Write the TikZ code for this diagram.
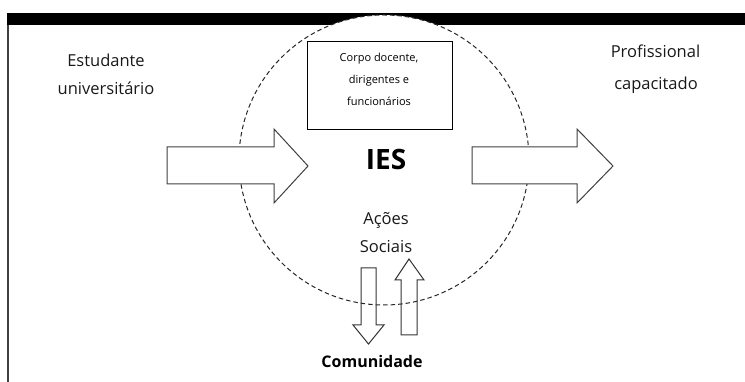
\documentclass[tikz,border=0pt]{standalone}
\usepackage{fontspec}
\setmainfont{Open Sans}
\begin{document}
\begin{tikzpicture}[x=1pt,y=1pt,
  lbl/.style={font=\fontsize{16.5}{19}\selectfont, inner sep=0, text=black!90, anchor=base},
  blockarrow/.style={draw=black!75, line width=1pt, fill=white, line join=miter},
  thinarrow/.style={draw=black!80, line width=1pt, line join=miter},
  boxtext/.style={font=\fontsize{11}{13}\selectfont, inner sep=0, anchor=base},
]
\useasboundingbox (0,0) rectangle (745,382);
% top bar and left rule
\fill[black] (7,357) rectangle (745,369);
\coordinate (ltop) at (8,357);
\coordinate (lbot) at (8,0);
\draw[black!75, line width=1.5pt] (ltop) -- (lbot);
% dashed circle (IES)
\node[circle, draw=black!85, dash pattern=on 4.5pt off 3pt, line width=1pt, fill=white, minimum size=290pt, inner sep=0] (circ) at (384,222) {};
% box
\node[draw=black, line width=1pt, minimum width=145pt, minimum height=88pt, inner sep=0] (box) at (379.5,296) {};
\node[boxtext] (b1) at (379,320) {Corpo docente,};
\node[boxtext] (b2) at (379,298) {dirigentes e};
\node[boxtext] (b3) at (379,276) {funcionários};
% IES
\node[font=\fontsize{28}{30}\selectfont\bfseries, inner sep=0] (ies) at (386,222) {IES};
% big arrows
\draw[blockarrow] (167,235) coordinate (la) -- (274,235) -- (274,253) -- (308,216) coordinate (lt) -- (274,179) -- (274,198) -- (167,198) -- cycle;
\draw[blockarrow] (472,235) coordinate (ra) -- (577,235) -- (577,253) -- (613,216) coordinate (rt) -- (577,179) -- (577,198) -- (472,198) -- cycle;
% labels
\node[lbl] (e1) at (106,315) {Estudante};
\node[lbl] (e2) at (106,287) {universitário};
\node[lbl] (p1) at (655.5,324) {Profissional};
\node[lbl] (p2) at (656,292) {capacitado};
\node[lbl] (a1) at (386,157) {Ações};
\node[lbl] (a2) at (386,129) {Sociais};
\node[lbl, font=\fontsize{16}{18}\selectfont\bfseries, text=black] (com) at (372,14) {Comunidade};
% small arrows
\draw[thinarrow] (361,114) -- (376,114) -- (376,57) -- (384,57) -- (368.5,38) coordinate (dt) -- (353,57) -- (361,57) -- cycle;
\draw[thinarrow] (401,47) -- (417,47) -- (417,102) -- (424,102) -- (409,123) coordinate (ut) -- (395,102) -- (401,102) -- cycle;
\end{tikzpicture}
\end{document}
